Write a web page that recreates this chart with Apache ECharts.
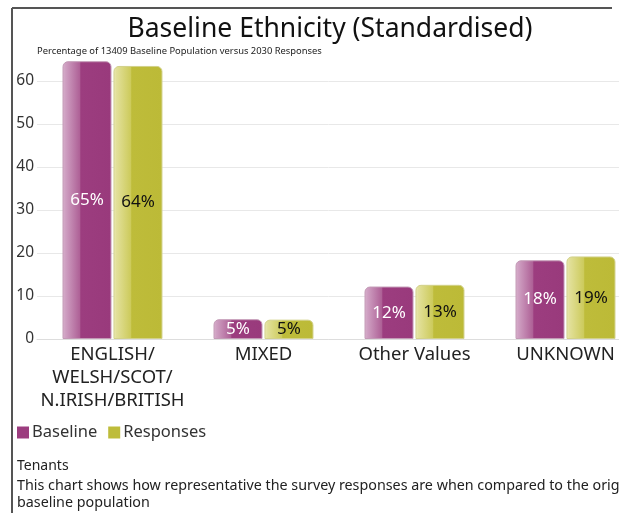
<!DOCTYPE html>
<html>
<head>
<meta charset="utf-8">
<script src="https://cdn.jsdelivr.net/npm/echarts@6/dist/echarts.min.js"></script>
<style>
html,body{margin:0;padding:0;background:#fff;}
#chart{width:619px;height:513px;}
</style>
</head>
<body>
<div id="chart"></div>
<script>
var categories = ['ENGLISH/\nWELSH/SCOT/\nN.IRISH/BRITISH', 'MIXED', 'Other Values', 'UNKNOWN'];
var baseline = [64.6, 4.6, 12.2, 18.3];
var responses = [63.5, 4.5, 12.6, 19.2];
var seriesNames = ['Baseline', 'Responses'];
var seriesColors = ['#9c3d7f', '#bebc3a'];
var yTicks = [0, 10, 20, 30, 40, 50, 60];

var FONT = '"Noto Sans", "Open Sans", sans-serif';

function grad(stops) {
  return new echarts.graphic.LinearGradient(0, 0, 1, 0, stops.map(function (s) { return { offset: s[0], color: s[1] }; }));
}

var chart = echarts.init(document.getElementById('chart'), null, { renderer: 'canvas' });
chart.setOption({
  animation: false,
  backgroundColor: '#ffffff',
  textStyle: { fontFamily: FONT },
  title: [{
    text: 'Baseline Ethnicity (Standardised)',
    left: 330, top: 16, textAlign: 'center', padding: 0,
    textStyle: { fontSize: 26.5, fontWeight: 'normal', color: '#111', fontFamily: FONT }
  }, {
    text: 'Percentage of 13409 Baseline Population versus 2030 Responses',
    left: 37, top: 47, padding: 0,
    textStyle: { fontSize: 9.4, fontWeight: 'normal', color: '#222', fontFamily: FONT }
  }],
  legend: {
    left: 17, top: 424, padding: 0,
    icon: 'rect', itemWidth: 12, itemHeight: 12, itemGap: 11,
    data: seriesNames.map(function (n, i) { return { name: n, itemStyle: { color: seriesColors[i], borderWidth: 0 } }; }),
    textStyle: { fontSize: 16.5, color: '#333', fontFamily: FONT, padding: [0, 0, 0, -2] }
  },
  grid: { left: 37, right: -22, top: 81, bottom: 174, containLabel: false, outerBoundsMode: 'none' },
  xAxis: {
    type: 'category',
    data: categories,
    axisLine: { show: true, lineStyle: { color: '#dddddd' } },
    axisTick: { show: false },
    axisLabel: { fontSize: 18.5, color: '#222', lineHeight: 23, margin: 4, interval: 0, fontFamily: FONT }
  },
  yAxis: {
    type: 'value',
    min: yTicks[0], max: yTicks[yTicks.length - 1], interval: 10,
    axisLine: { show: false },
    axisTick: { show: false },
    axisLabel: { fontSize: 15.5, color: '#333', margin: 3, fontFamily: FONT },
    splitLine: { lineStyle: { color: '#e8e8e8' } }
  },
  series: [{
    name: seriesNames[0],
    type: 'bar',
    data: baseline,
    clip: false,
    barWidth: 49,
    barGap: '4%',
    itemStyle: {
      color: grad([[0, '#d9b2cd'], [0.06, '#cfa0c2'], [0.36, '#ad5f95'], [0.37, '#9c3d7f'], [1, '#993a7c']]),
      borderColor: '#c39ab6', borderWidth: 1, borderRadius: [5, 5, 0, 0]
    },
    label: {
      show: true, position: 'inside', fontSize: 17, color: '#ffffff', fontFamily: FONT,
      formatter: function (p) { return Math.round(p.value) + '%'; }
    }
  }, {
    name: seriesNames[1],
    type: 'bar',
    data: responses,
    clip: false,
    barWidth: 49,
    itemStyle: {
      color: grad([[0, '#ebe9b8'], [0.06, '#e2e09a'], [0.36, '#ccca5a'], [0.37, '#bebc3a'], [1, '#bcba37']]),
      borderColor: '#d2d18a', borderWidth: 1, borderRadius: [5, 5, 0, 0]
    },
    label: {
      show: true, position: 'inside', fontSize: 17, color: '#111111', fontFamily: FONT,
      formatter: function (p) { return Math.round(p.value) + '%'; }
    }
  }],
  graphic: [{
    type: 'line', shape: { x1: 12, y1: 8, x2: 612, y2: 8 },
    style: { stroke: '#555', lineWidth: 2 }
  }, {
    type: 'line', shape: { x1: 12, y1: 8, x2: 12, y2: 513 },
    style: { stroke: '#555', lineWidth: 2 }
  }, {
    type: 'text', left: 17, top: 459,
    style: { text: 'Tenants', fontSize: 14, fill: '#222', fontFamily: FONT }
  }, {
    type: 'text', left: 17, top: 479,
    style: { text: 'This chart shows how representative the survey responses are when compared to the original', fontSize: 14.3, fill: '#222', fontFamily: FONT }
  }, {
    type: 'text', left: 17, top: 496,
    style: { text: 'baseline population', fontSize: 14.3, fill: '#222', fontFamily: FONT }
  }]
});
</script>
</body>
</html>
